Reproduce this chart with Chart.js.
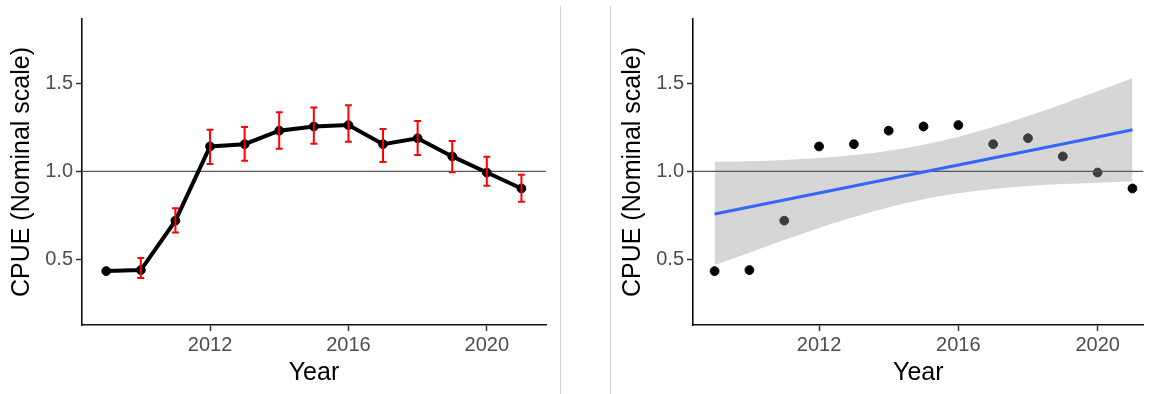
<!DOCTYPE html>
<html>
<head>
<meta charset="utf-8">
<script src="https://cdn.jsdelivr.net/npm/chart.js@4.4.1/dist/chart.umd.min.js"></script>
<style>
  html, body { margin:0; padding:0; background:#fff; width:1149px; height:394px; overflow:hidden; }
  #wrap { position:relative; width:1149px; height:394px; }
  canvas { position:absolute; top:0; }
  .sep { position:absolute; top:6px; width:1px; height:388px; background:#d2d2d2; }
</style>
</head>
<body>
<div id="wrap">
  <canvas id="left" width="559" height="394" style="left:0px"></canvas>
  <div class="sep" style="left:560px"></div>
  <div class="sep" style="left:610px"></div>
  <canvas id="right" width="538" height="394" style="left:611px"></canvas>
</div>
<script>
// ---- data ----
const years = [2009, 2010, 2011, 2012, 2013, 2014, 2015, 2016, 2017, 2018, 2019, 2020, 2021];
const cpue = [0.431, 0.437, 0.719, 1.143, 1.156, 1.233, 1.257, 1.265, 1.156, 1.190, 1.086, 0.994, 0.903];
const cpueLower = [null, 0.391, 0.652, 1.042, 1.061, 1.130, 1.158, 1.170, 1.054, 1.094, 0.996, 0.918, 0.827];
const cpueUpper = [null, 0.506, 0.790, 1.238, 1.254, 1.339, 1.366, 1.379, 1.242, 1.288, 1.174, 1.084, 0.981];
const fitLine = [0.757, 0.797, 0.837, 0.877, 0.917, 0.957, 0.997, 1.037, 1.077, 1.117, 1.157, 1.197, 1.238];
const bandUpper = [1.055, 1.059, 1.066, 1.077, 1.094, 1.119, 1.153, 1.199, 1.254, 1.317, 1.386, 1.458, 1.533];
const bandLower = [0.466, 0.536, 0.608, 0.677, 0.740, 0.795, 0.841, 0.875, 0.900, 0.917, 0.928, 0.936, 0.943];
const refLevel = 1.0;
const xTicks = [2012, 2016, 2020];
const yTicks = [0.5, 1.0, 1.5];
const yLabel = 'CPUE (Nominal scale)';
const xLabel = 'Year';

// ---- styles / layout ----
const FONT = "'Liberation Sans', Arial, Helvetica, sans-serif";
const yMin = 0.123, yMax = 1.871;
const leftX = { min: 2008.30, max: 2021.71 };
const rightX = { min: 2008.38, max: 2021.32 };

const pts = arr => years.map((yr, i) => ({ x: yr, y: arr[i] }));

function makeScales(xr) {
  return {
    x: {
      type: 'linear', min: xr.min, max: xr.max,
      afterBuildTicks: s => { s.ticks = xTicks.map(v => ({ value: v })); },
      afterFit: s => { s.height = 69; },
      ticks: { color: '#4d4d4d', font: { family: FONT, size: 20 }, padding: 2, autoSkip: false, maxRotation: 0,
               callback: v => String(v) },
      grid: { drawOnChartArea: false, drawTicks: true, tickLength: 6, tickColor: '#333', tickWidth: 1.5 },
      border: { display: true, color: '#111', width: 1.6 },
      title: { display: true, text: xLabel, color: '#000', font: { family: FONT, size: 25 }, padding: { top: 0, bottom: 6 } }
    },
    y: {
      type: 'linear', min: yMin, max: yMax,
      afterBuildTicks: s => { s.ticks = yTicks.map(v => ({ value: v })); },
      afterFit: s => { s.width = 82; },
      ticks: { color: '#4d4d4d', font: { family: FONT, size: 20 }, padding: 3,
               callback: v => Number(v).toFixed(1) },
      grid: { drawOnChartArea: false, drawTicks: true, tickLength: 6, tickColor: '#333', tickWidth: 1.5 },
      border: { display: true, color: '#111', width: 1.6 },
      title: { display: true, text: yLabel, color: '#000', font: { family: FONT, size: 25 }, padding: { top: 7, bottom: 0 } }
    }
  };
}

const errorBars = {
  id: 'errorBars',
  afterDatasetsDraw(chart) {
    const { ctx, scales: { x, y } } = chart;
    const capHalf = 0.1; // in years
    ctx.save();
    ctx.strokeStyle = '#ff0000';
    ctx.lineWidth = 2;
    years.forEach((yr, i) => {
      if (cpueLower[i] == null) return;
      const px = x.getPixelForValue(yr);
      const pl = y.getPixelForValue(cpueLower[i]);
      const pu = y.getPixelForValue(cpueUpper[i]);
      const c0 = x.getPixelForValue(yr - capHalf), c1 = x.getPixelForValue(yr + capHalf);
      ctx.beginPath();
      ctx.moveTo(px, pl); ctx.lineTo(px, pu);
      ctx.moveTo(c0, pu); ctx.lineTo(c1, pu);
      ctx.moveTo(c0, pl); ctx.lineTo(c1, pl);
      ctx.stroke();
    });
    ctx.restore();
  }
};

const common = {
  responsive: false,
  animation: false,
  devicePixelRatio: 1,
  plugins: { legend: { display: false }, tooltip: { enabled: false } },
  events: []
};

new Chart(document.getElementById('left'), {
  type: 'line',
  data: {
    datasets: [
      { data: pts(cpue), borderColor: '#000', borderWidth: 4, pointRadius: 4.4, pointBorderWidth: 1,
        pointBackgroundColor: '#000', pointBorderColor: '#000', tension: 0 },
      { data: [{ x: leftX.min, y: refLevel }, { x: leftX.max, y: refLevel }],
        borderColor: '#555', borderWidth: 1.3, pointRadius: 0 }
    ]
  },
  options: Object.assign({}, common, {
    layout: { padding: { top: 19, right: 13, left: 0, bottom: 0 } },
    scales: makeScales(leftX)
  }),
  plugins: [errorBars]
});

new Chart(document.getElementById('right'), {
  type: 'line',
  data: {
    datasets: [
      { data: pts(fitLine), borderColor: '#3366FF', borderWidth: 3, pointRadius: 0 },
      { data: [{ x: rightX.min, y: refLevel }, { x: rightX.max, y: refLevel }],
        borderColor: '#555', borderWidth: 1.3, pointRadius: 0 },
      { data: pts(bandUpper), borderWidth: 0, borderColor: 'rgba(0,0,0,0)', pointRadius: 0,
        fill: '+1', backgroundColor: 'rgba(153,153,153,0.4)', cubicInterpolationMode: 'monotone' },
      { data: pts(bandLower), borderWidth: 0, borderColor: 'rgba(0,0,0,0)', pointRadius: 0,
        fill: false, cubicInterpolationMode: 'monotone' },
      { data: pts(cpue), showLine: false, pointRadius: 4.4, pointBorderWidth: 1,
        pointBackgroundColor: '#000', pointBorderColor: '#000' }
    ]
  },
  options: Object.assign({}, common, {
    layout: { padding: { top: 19, right: 0, left: 0, bottom: 0 } },
    scales: makeScales(rightX)
  })
});
</script>
</body>
</html>
